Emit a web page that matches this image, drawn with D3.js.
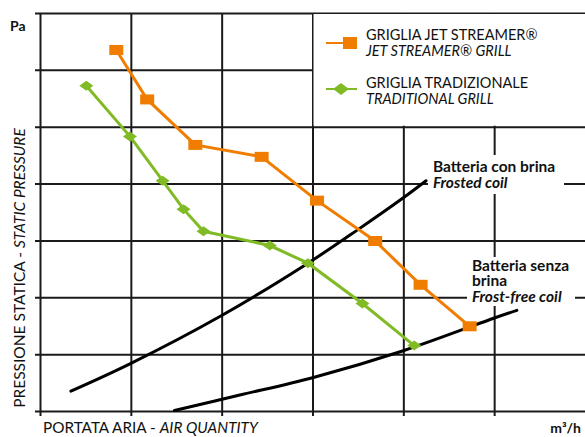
<!DOCTYPE html>
<html>
<head>
  <meta charset="UTF-8">
  <style>
body{ margin:0; background:#fff; }
svg{ display:block; font-family: Lato, "Open Sans", sans-serif; }
  </style>
</head>
<body>
<svg></svg>
<script src="https://d3js.org/d3.v7.min.js"></script>
<script>

// values, in grid units (x: 0..6, y: 0..7)
let jetX = [0.84, 1.18, 1.71, 2.44, 3.05, 3.69, 4.19, 4.73]
let jetY = [6.35, 5.48, 4.68, 4.47, 3.70, 2.99, 2.22, 1.49]

let tradX = [0.51, 0.99, 1.35, 1.58, 1.80, 2.53, 2.95, 3.55, 4.12]
let tradY = [5.72, 4.83, 4.05, 3.55, 3.16, 2.91, 2.60, 1.89, 1.15]

let frostedX = [0.34, 0.99, 2.00, 2.95, 3.50, 4.00, 4.25]
let frostedY = [0.35, 0.83, 1.68, 2.60, 3.19, 3.75, 4.05]

let freeX = [1.48, 2.20, 3.01, 4.00, 5.01, 5.25]
let freeY = [0.01, 0.28, 0.59, 1.06, 1.64, 1.77]

let xTicks = [0, 1, 2, 3, 4, 5]
let yTicks = [0, 1, 2, 3, 4, 5, 6, 7]

let legendLabels = [
    ["GRIGLIA JET STREAMER®", "JET STREAMER® GRILL"],
    ["GRIGLIA TRADIZIONALE", "TRADITIONAL GRILL"]
]

let width = 585, height = 437;
let orange = "#f07d00", green = "#80bb25";

let svg = d3.select("svg")
    .attr("width", width)
    .attr("height", height)

let x = d3.scaleLinear().domain([0, 6]).range([40, 585])
let y = d3.scaleLinear().domain([0, 7]).range([411, 13])

// grid drawn through the axes, ticks stick out 5px
let gy = svg.append("g")
    .attr("transform", "translate(40,0)")
    .call(d3.axisLeft(y).tickValues(yTicks).tickSizeOuter(0).tickFormat(""))
gy.selectAll(".tick line").attr("x1", -5).attr("x2", width - 40)
gy.select(".domain").remove()

let gx = svg.append("g")
    .attr("transform", "translate(0,411)")
    .call(d3.axisBottom(x).tickValues(xTicks).tickSizeOuter(0).tickFormat(""))
gx.selectAll(".tick line").attr("y1", y(7) - 411).attr("y2", 5)
gx.select(".domain").remove()

svg.selectAll(".tick line")
    .attr("stroke", "#1a1a1a")
    .attr("stroke-width", 2)

// coil curves
let curve = d3.line()
    .x(d => x(d[0]))
    .y(d => y(d[1]))
    .curve(d3.curveCatmullRom)

svg.append("path")
    .datum(d3.zip(frostedX, frostedY))
    .attr("d", curve)
    .attr("fill", "none")
    .attr("stroke", "#000")
    .attr("stroke-width", 3)
    .attr("stroke-linecap", "round")

svg.append("path")
    .datum(d3.zip(freeX, freeY))
    .attr("d", curve)
    .attr("fill", "none")
    .attr("stroke", "#000")
    .attr("stroke-width", 3)
    .attr("stroke-linecap", "round")

// coil labels on white
svg.append("rect").attr("x", 428).attr("y", 155).attr("width", 136).attr("height", 39).attr("fill", "#fff")
svg.append("rect").attr("x", 467).attr("y", 257).attr("width", 108).attr("height", 49).attr("fill", "#fff")

let coil1 = svg.append("text")
    .attr("x", 433).attr("y", 172)
    .attr("font-size", 15.5).attr("font-weight", "bold").attr("fill", "#111")
coil1.append("tspan").text("Batteria con brina")
coil1.append("tspan").attr("x", 433).attr("dy", 16).attr("font-style", "italic").text("Frosted coil")

let coil2 = svg.append("text")
    .attr("x", 472).attr("y", 271)
    .attr("font-size", 15.5).attr("font-weight", "bold").attr("fill", "#111")
coil2.append("tspan").text("Batteria senza")
coil2.append("tspan").attr("x", 472).attr("dy", 15).text("brina")
coil2.append("tspan").attr("x", 472).attr("dy", 16).attr("font-style", "italic").text("Frost-free coil")

// series
let line = d3.line()
    .x(d => x(d[0]))
    .y(d => y(d[1]))

let jet = d3.zip(jetX, jetY)
let trad = d3.zip(tradX, tradY)

svg.append("path")
    .datum(trad)
    .attr("d", line)
    .attr("fill", "none")
    .attr("stroke", green)
    .attr("stroke-width", 3)

svg.append("g")
    .selectAll("path")
    .data(trad)
    .enter()
    .append("path")
    .attr("d", "M-7,0L0,-5L7,0L0,5Z")
    .attr("transform", d => "translate(" + x(d[0]) + "," + y(d[1]) + ")")
    .attr("fill", green)

svg.append("path")
    .datum(jet)
    .attr("d", line)
    .attr("fill", "none")
    .attr("stroke", orange)
    .attr("stroke-width", 3)

svg.append("g")
    .selectAll("rect")
    .data(jet)
    .enter()
    .append("rect")
    .attr("x", d => x(d[0]) - 7)
    .attr("y", d => y(d[1]) - 5)
    .attr("width", 14)
    .attr("height", 10)
    .attr("fill", orange)

// legend box sits over the grid, its edges are grid lines
svg.append("rect")
    .attr("x", x(3) + 1).attr("y", y(7) + 1)
    .attr("width", width - x(3) - 1).attr("height", y(5) - y(7) - 2)
    .attr("fill", "#fff")

let legend = svg.append("g")
legend.append("line").attr("x1", 326).attr("x2", 357).attr("y1", 43).attr("y2", 43)
    .attr("stroke", orange).attr("stroke-width", 2)
legend.append("rect").attr("x", 343).attr("y", 37).attr("width", 14).attr("height", 12).attr("fill", orange)
legend.append("line").attr("x1", 326).attr("x2", 357).attr("y1", 89).attr("y2", 89)
    .attr("stroke", green).attr("stroke-width", 2)
legend.append("path").attr("d", "M-8,0L0,-6L8,0L0,6Z")
    .attr("transform", "translate(341,89)").attr("fill", green)

legendLabels.forEach((l, i) => {
    let t = legend.append("text")
        .attr("x", 366).attr("y", 40 + i * 48)
        .attr("font-size", 14.5).attr("fill", "#111")
    t.append("tspan").text(l[0])
    t.append("tspan").attr("x", 366).attr("dy", 16).attr("font-style", "italic").text(l[1])
})

// axis titles
let yt = svg.append("text")
    .attr("transform", "translate(25,268) rotate(-90)")
    .attr("text-anchor", "middle")
    .attr("font-size", 15.5).attr("fill", "#111")
yt.append("tspan").text("PRESSIONE STATICA - ")
yt.append("tspan").attr("font-style", "italic").text("STATIC PRESSURE")

let xt = svg.append("text")
    .attr("x", 43).attr("y", 433)
    .attr("font-size", 15.3).attr("fill", "#111")
xt.append("tspan").text("PORTATA ARIA - ")
xt.append("tspan").attr("font-style", "italic").text("AIR QUANTITY")

svg.append("text")
    .attr("x", 581).attr("y", 433).attr("text-anchor", "end")
    .attr("font-size", 14).attr("font-weight", "bold").attr("fill", "#111")
    .text("m³/h")

svg.append("text")
    .attr("x", 10).attr("y", 31)
    .attr("font-size", 14).attr("font-weight", "bold").attr("fill", "#111")
    .text("Pa")

</script>
</body>
</html>
